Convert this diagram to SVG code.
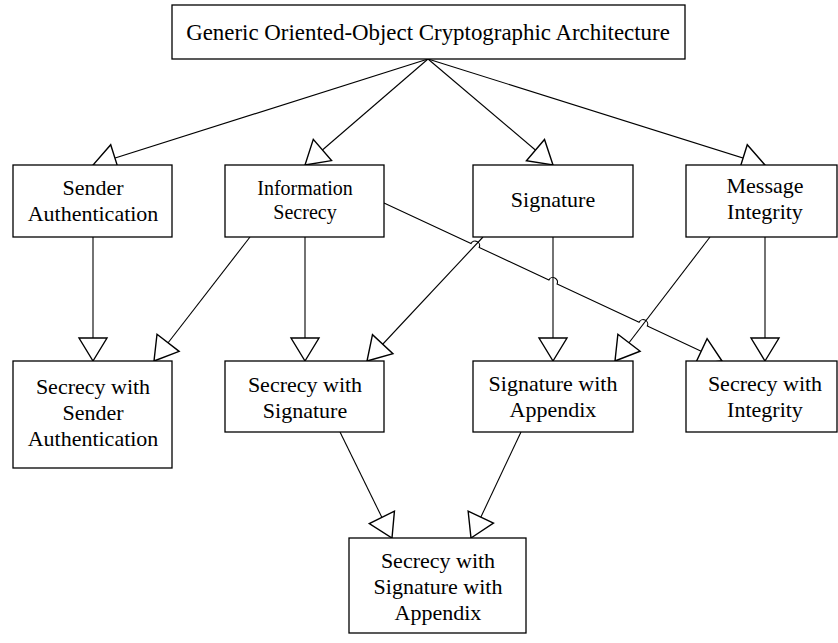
<svg xmlns="http://www.w3.org/2000/svg" width="838" height="643" viewBox="0 0 838 643">
  <style>
    .box { fill: #ffffff; stroke: #000000; stroke-width: 1.3; }
    .lbl { font-family: "Liberation Serif", "Times New Roman", serif; font-size: 22px; fill: #000000; text-anchor: middle; }
    .small { font-size: 20px; }
    .edge { fill: none; stroke: #000000; stroke-width: 1.1; marker-end: url(#hollow); }
  </style>
  <defs>
    <!-- hollow triangular head, tip sits on the end point -->
    <marker id="hollow" markerUnits="userSpaceOnUse" viewBox="-25 -16 27 32" refX="0" refY="0" markerWidth="27" markerHeight="32" orient="auto">
      <path d="M0,0 L-23,-14 L-23,14 Z" fill="#ffffff" stroke="#000000" stroke-width="1.4" stroke-linejoin="miter"/>
    </marker>
  </defs>

  <!-- connectors drawn first so the boxes sit on top -->
  <g id="connectors">
    <path class="edge" d="M428,59 L93,165"/>
    <path class="edge" d="M428,59 L305,165"/>
    <path class="edge" d="M428,59 L553,165"/>
    <path class="edge" d="M428,59 L765,165"/>

    <path class="edge" d="M93,237 L93,361"/>
    <path class="edge" d="M250,237 L154,361"/>
    <path class="edge" d="M305,237 L305,361"/>
    <path class="edge" d="M483,237 L367,361"/>
    <path class="edge" d="M553,237 L553,361"/>
    <path class="edge" d="M710,237 L615,361"/>
    <path class="edge" d="M765,237 L765,361"/>
    <!-- long diagonal with line hops over the crossings -->
    <path class="edge" d="M384,203 L471.0,243.6 A4.5,4.5 0 0 1 479.2,247.4 L548.9,280.1 A4.5,4.5 0 0 1 557.1,283.9 L639.1,322.3 A4.5,4.5 0 0 1 647.3,326.1 L722,361"/>

    <path class="edge" d="M340,432 L392,538"/>
    <path class="edge" d="M521,432 L471,538"/>
  </g>

  <g id="goca">
    <rect class="box" x="172" y="5" width="513" height="54"/>
    <text class="lbl" x="428" y="40" style="font-size:22.9px">Generic Oriented-Object Cryptographic Architecture</text>
  </g>

  <g id="sender-authentication">
    <rect class="box" x="13" y="165" width="159" height="72"/>
    <text class="lbl" x="93" y="195">Sender</text>
    <text class="lbl" x="93" y="221">Authentication</text>
  </g>

  <g id="information-secrecy">
    <rect class="box" x="225" y="165" width="159" height="72"/>
    <text class="lbl small" x="305" y="195">Information</text>
    <text class="lbl small" x="305" y="219">Secrecy</text>
  </g>

  <g id="signature">
    <rect class="box" x="473" y="165" width="160" height="72"/>
    <text class="lbl" x="553" y="207">Signature</text>
  </g>

  <g id="message-integrity">
    <rect class="box" x="686" y="165" width="151" height="72"/>
    <text class="lbl" x="765" y="193">Message</text>
    <text class="lbl" x="765" y="219">Integrity</text>
  </g>

  <g id="secrecy-sender-auth">
    <rect class="box" x="13" y="361" width="159" height="107"/>
    <text class="lbl" x="93" y="394">Secrecy with</text>
    <text class="lbl" x="93" y="420">Sender</text>
    <text class="lbl" x="93" y="446">Authentication</text>
  </g>

  <g id="secrecy-signature">
    <rect class="box" x="225" y="361" width="159" height="71"/>
    <text class="lbl" x="305" y="392">Secrecy with</text>
    <text class="lbl" x="305" y="418">Signature</text>
  </g>

  <g id="signature-appendix">
    <rect class="box" x="473" y="361" width="160" height="71"/>
    <text class="lbl" x="553" y="391">Signature with</text>
    <text class="lbl" x="553" y="417">Appendix</text>
  </g>

  <g id="secrecy-integrity">
    <rect class="box" x="686" y="361" width="151" height="71"/>
    <text class="lbl" x="765" y="391">Secrecy with</text>
    <text class="lbl" x="765" y="417">Integrity</text>
  </g>

  <g id="secrecy-signature-appendix">
    <rect class="box" x="349" y="538" width="177" height="95"/>
    <text class="lbl" x="438" y="568">Secrecy with</text>
    <text class="lbl" x="438" y="594">Signature with</text>
    <text class="lbl" x="438" y="620">Appendix</text>
  </g>
</svg>
